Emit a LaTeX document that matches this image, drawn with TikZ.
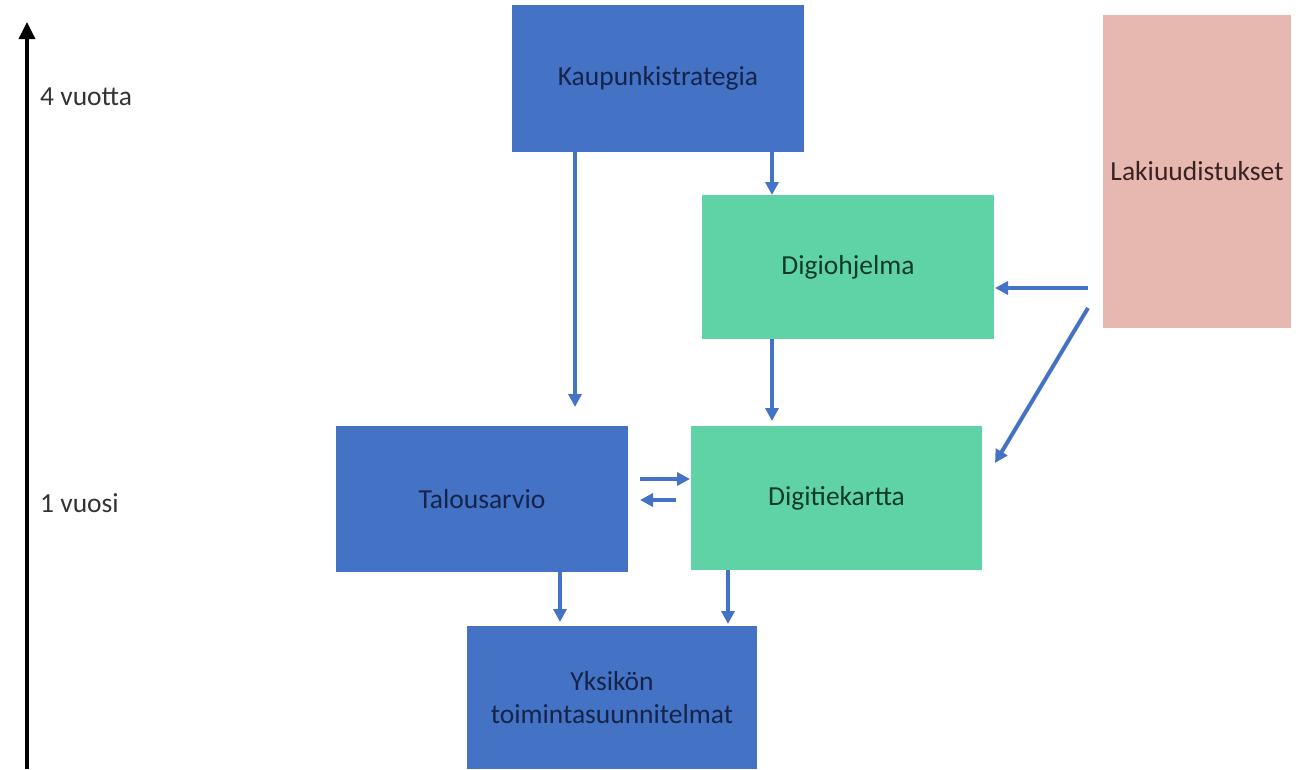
\documentclass[tikz,border=0pt]{standalone}
\usepackage{fontspec}
\setmainfont{Carlito}
\usetikzlibrary{arrows.meta}
\definecolor{cblue}{HTML}{4472C4}
\definecolor{cgreen}{HTML}{5FD3A5}
\definecolor{cpink}{HTML}{E6B8B0}
\definecolor{tblue}{HTML}{15244A}
\definecolor{tgreen}{HTML}{0E3A2B}
\definecolor{tpink}{HTML}{3A2222}
\definecolor{tgrey}{HTML}{333333}
\tikzset{
  box/.style={rectangle, anchor=north west, inner sep=0pt, outer sep=0pt, align=center,
     font=\fontsize{27.5}{33}\selectfont},
  bluebox/.style={box, fill=cblue, text=tblue},
  greenbox/.style={box, fill=cgreen, text=tgreen},
  pinkbox/.style={box, fill=cpink, text=tpink},
  arr/.style={draw=cblue, line width=4pt, -{Triangle[length=13pt,width=13pt]}},
  axisline/.style={draw=black, line width=3.5pt, -{Triangle[length=17pt,width=16pt]}},
  lbl/.style={anchor=west, inner sep=0pt, text=tgrey, font=\fontsize{27.5}{33}\selectfont}
}
\begin{document}
\begin{tikzpicture}[x=1pt,y=-1pt]
\useasboundingbox (0,0) rectangle (1310,769);
\node[bluebox, minimum width=292pt, minimum height=147pt] (kaup) at (512,5) {Kaupunkistrategia};
\node[greenbox, minimum width=292pt, minimum height=144pt] (digi) at (702,195) {Digiohjelma};
\node[pinkbox, minimum width=188pt, minimum height=313pt] (laki) at (1103,15) {Lakiuudistukset};
\node[bluebox, minimum width=292pt, minimum height=146pt] (talo) at (336,426) {Talousarvio};
\node[greenbox, minimum width=291pt, minimum height=144pt] (tiek) at (691,426) {Digitiekartta};
\node[bluebox, minimum width=290pt, minimum height=143pt] (yks) at (467,626) {Yksikön\\toimintasuunnitelmat};

\coordinate (ab) at (27,769);
\coordinate (at) at (27,22);
\draw[axisline] (ab) -- (at);
\node[lbl] (l4) at (40,97) {4 vuotta};
\node[lbl] (l1) at (40,503) {1 vuosi};

\draw[arr] ([xshift=63pt]kaup.south west) -- ([xshift=239pt,yshift=19pt]talo.north west);
\draw[arr] ([xshift=260pt]kaup.south west) -- ([xshift=70pt]digi.north west);
\draw[arr] ([xshift=70pt]digi.south west) -- ([xshift=81pt,yshift=5pt]tiek.north west);
\draw[arr] ([xshift=-15pt,yshift=40pt]laki.south west) -- ([xshift=1pt,yshift=-21pt]digi.east);
\draw[arr] ([xshift=-15pt,yshift=20pt]laki.south west) -- ([xshift=13pt,yshift=-37pt]tiek.north east);
\draw[arr] ([xshift=12pt,yshift=-53pt]talo.north east) -- ([xshift=-1pt,yshift=-53pt]tiek.north west);
\draw[arr] ([xshift=-15pt,yshift=-74pt]tiek.north west) -- ([xshift=12pt,yshift=-74pt]talo.north east);
\draw[arr] ([xshift=224pt]talo.south west) -- ([xshift=93pt,yshift=4pt]yks.north west);
\draw[arr] ([xshift=37pt]tiek.south west) -- ([xshift=261pt,yshift=2pt]yks.north west);
\end{tikzpicture}
\end{document}
